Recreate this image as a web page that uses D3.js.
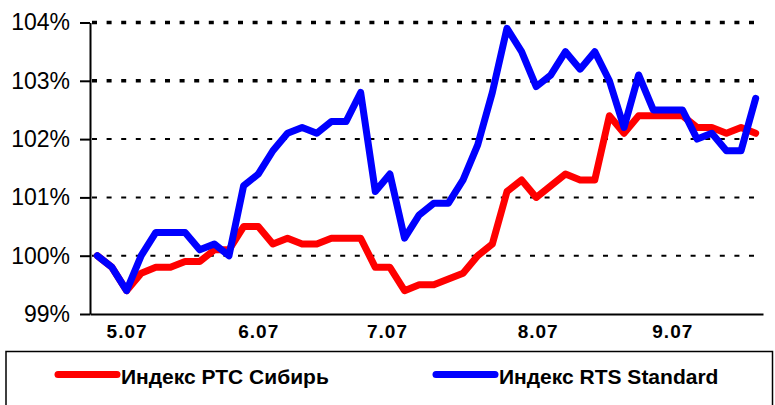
<!DOCTYPE html>
<html>
<head>
<meta charset="utf-8">
<script src="https://cdn.jsdelivr.net/npm/d3@7"></script>
<style>
  body { margin: 0; background: #fff; }
  svg { display: block; font-family: "Liberation Sans", Arial, sans-serif; }
</style>
</head>
<body>
<svg id="chart"></svg>
<script>
// series values, % (one point per category)
var rtsSiberia = [100.0, 99.8, 99.4, 99.7, 99.8, 99.8, 99.9, 99.9, 100.1, 100.1,
  100.5, 100.5, 100.2, 100.3, 100.2, 100.2, 100.3, 100.3, 100.3, 99.8,
  99.8, 99.4, 99.5, 99.5, 99.6, 99.7, 100.0, 100.2, 101.1, 101.3,
  101.0, 101.2, 101.4, 101.3, 101.3, 102.4, 102.1, 102.4, 102.4, 102.4,
  102.4, 102.2, 102.2, 102.1, 102.2, 102.1];
var rtsStandard = [100.0, 99.8, 99.4, 100.0, 100.4, 100.4, 100.4, 100.1, 100.2, 100.0,
  101.2, 101.4, 101.8, 102.1, 102.2, 102.1, 102.3, 102.3, 102.8, 101.1,
  101.4, 100.3, 100.7, 100.9, 100.9, 101.3, 101.9, 102.8, 103.9, 103.5,
  102.9, 103.1, 103.5, 103.2, 103.5, 103.0, 102.2, 103.1, 102.5, 102.5,
  102.5, 102.0, 102.1, 101.8, 101.8, 102.7];
var seriesNames = ["Индекс РТС Сибирь", "Индекс RTS Standard"];
var seriesColors = ["#ff0000", "#0000ff"];

// x tick labels and the category they sit under
var xTickLabels = ["5.07", "6.07", "7.07", "8.07", "9.07"];
var xTickAt = [2, 11, 19.8, 30.1, 39.3];
var yTicks = [99, 100, 101, 102, 103, 104];

var width = 775, height = 405;
var svg = d3.select('#chart').attr('width', width).attr('height', height);
svg.append('rect').attr('width', width).attr('height', height).attr('fill', '#fff');

var n = rtsStandard.length;
var x = d3.scaleLinear().domain([-0.5, n - 0.5]).range([90, 763]);
var y = d3.scaleLinear().domain([99, 104]).range([314, 22.5]);

// grid
yTicks.filter(function(d){ return d > 99; }).forEach(function(v){
  svg.append('line')
    .attr('x1', 90).attr('x2', 757)
    .attr('y1', y(v)).attr('y2', y(v))
    .attr('stroke', '#000')
    .attr('stroke-width', v >= 103 ? 3.5 : 2)
    .attr('stroke-dasharray', '5 9.6')
    .attr('stroke-dashoffset', -2);
});

// y axis
var yAxis = d3.axisLeft(y).tickValues(yTicks)
  .tickFormat(function(d){ return d + '%'; })
  .tickSize(10).tickSizeOuter(0).tickPadding(10);
var gy = svg.append('g').attr('transform', 'translate(90,0)').call(yAxis);
gy.select('.domain').attr('stroke-width', 2);
gy.selectAll('.tick line').attr('stroke-width', 2);
gy.selectAll('.tick text').attr('font-size', 23).attr('font-family', '"Liberation Sans", Arial, sans-serif').attr('fill', '#000');

// x axis
var xAxis = d3.axisBottom(x).tickValues(xTickAt)
  .tickFormat(function(d, i){ return xTickLabels[i]; })
  .tickSize(0).tickSizeOuter(0).tickPadding(11);
var gx = svg.append('g').attr('transform', 'translate(0,314)').call(xAxis);
gx.select('.domain').attr('stroke-width', 2);
gx.selectAll('.tick text').attr('font-size', 19).attr('font-weight', 'bold')
  .attr('letter-spacing', 1).attr('font-family', '"Liberation Sans", Arial, sans-serif').attr('fill', '#000');

// lines
var line = d3.line()
  .x(function(d, i){ return x(i); })
  .y(function(d){ return y(d); });
[rtsSiberia, rtsStandard].forEach(function(s, k){
  svg.append('path').datum(s)
    .attr('d', line)
    .attr('fill', 'none')
    .attr('stroke', seriesColors[k])
    .attr('stroke-width', 7)
    .attr('stroke-linejoin', 'round')
    .attr('stroke-linecap', 'round');
});

// legend
svg.append('rect')
  .attr('x', 6).attr('y', 351.5).attr('width', 766.5).attr('height', 70)
  .attr('fill', 'none').attr('stroke', '#000').attr('stroke-width', 1.5);
var legendX = [58, 436];
seriesNames.forEach(function(name, k){
  svg.append('line')
    .attr('x1', legendX[k]).attr('x2', legendX[k] + 59)
    .attr('y1', 374.5).attr('y2', 374.5)
    .attr('stroke', seriesColors[k]).attr('stroke-width', 7)
    .attr('stroke-linecap', 'round');
  svg.append('text')
    .attr('x', legendX[k] + 63).attr('y', 384)
    .attr('font-size', 21).attr('font-weight', 'bold')
    .text(name);
});
</script>
</body>
</html>
